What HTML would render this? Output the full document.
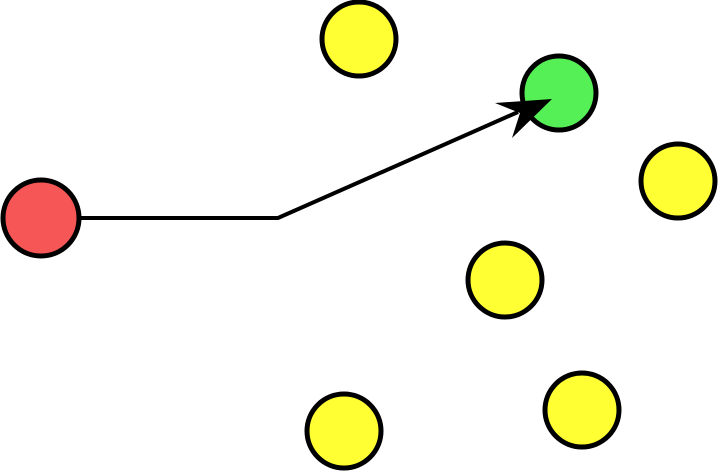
<!DOCTYPE html>
<html><head><meta charset="utf-8"><style>html,body{margin:0;padding:0;background:#fff}svg{display:block}</style></head>
<body>
<svg width="720" height="474" viewBox="0 0 720 474">
<polyline points="80,218 278,218 518,112" fill="none" stroke="#000" stroke-width="4"/>
<g stroke="#000" stroke-width="5">
<circle cx="41" cy="218" r="38" fill="#f75656"/>
<circle cx="559" cy="93" r="37" fill="#55f055"/>
<circle cx="359" cy="39" r="37" fill="#ffff33"/>
<circle cx="678" cy="181" r="37" fill="#ffff33"/>
<circle cx="505" cy="280" r="37" fill="#ffff33"/>
<circle cx="344" cy="431" r="37" fill="#ffff33"/>
<circle cx="582" cy="410" r="37" fill="#ffff33"/>
</g>
<polygon points="552,99 512,138 520,113 495,103" fill="#000"/>
</svg>
</body></html>
